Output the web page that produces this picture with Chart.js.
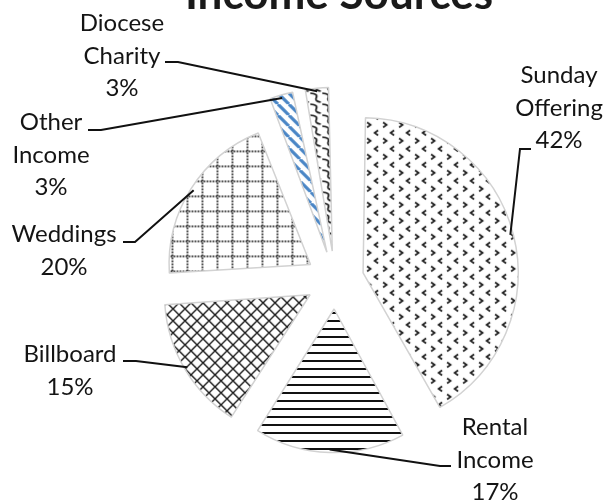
<!DOCTYPE html>
<html>
<head>
<meta charset="utf-8">
<title>Income Sources</title>
<script src="https://cdn.jsdelivr.net/npm/chart.js@4.4.1/dist/chart.umd.min.js"></script>
<style>
html, body { margin: 0; padding: 0; background: #fff; }
#wrap { width: 608px; height: 503px; }
</style>
</head>
<body>
<div id="wrap"><canvas id="pie" width="608" height="503"></canvas></div>
<script>
const categories = ['Sunday Offering', 'Rental Income', 'Billboard', 'Weddings', 'Other Income', 'Diocese Charity'];
const shares = [42, 17, 15, 20, 3, 3];
const labelLines = [['Sunday', 'Offering'], ['Rental', 'Income'], ['Billboard'], ['Weddings'], ['Other', 'Income'], ['Diocese', 'Charity']];

// where each callout sits and where its leader line leaves the text
const callouts = [
    { x: 559, y: 83, hook: [531, 149], elbow: [520, 149] },
    { x: 495, y: 435, hook: [451, 466], elbow: [440, 466] },
    { x: 70, y: 362, hook: [123, 361], elbow: [136, 361] },
    { x: 64, y: 242, hook: [123, 242], elbow: [135, 242] },
    { x: 51, y: 130, hook: [88, 130], elbow: [101, 130] },
    { x: 122, y: 31, hook: [165, 62], elbow: [178, 62] }
];

const canvas = document.getElementById('pie');
const ctx = canvas.getContext('2d');

function makePattern(w, h, draw) {
    const c = document.createElement('canvas');
    c.width = w;
    c.height = h;
    const g = c.getContext('2d');
    g.fillStyle = '#fff';
    g.fillRect(0, 0, w, h);
    draw(g);
    return ctx.createPattern(c, 'repeat');
}

const patterns = [
    // little < > marks
    makePattern(16, 16, g => {
        g.strokeStyle = '#1e1e1e';
        g.lineWidth = 1.7;
        g.beginPath();
        g.moveTo(3, 1.5); g.lineTo(6.5, 4); g.lineTo(3, 6.5);
        g.moveTo(14, 9.5); g.lineTo(10.5, 12); g.lineTo(14, 14.5);
        g.stroke();
    }),
    // horizontal lines
    makePattern(8, 8, g => {
        g.fillStyle = '#111';
        g.fillRect(0, 3, 8, 2);
    }),
    // diagonal cross hatch
    makePattern(12, 12, g => {
        g.strokeStyle = '#1a1a1a';
        g.lineWidth = 1.4;
        g.beginPath();
        g.moveTo(0, 0); g.lineTo(12, 12);
        g.moveTo(12, 0); g.lineTo(0, 12);
        g.stroke();
    }),
    // dotted grid
    makePattern(15, 15, g => {
        g.fillStyle = '#1a1a1a';
        for (let i = 0; i < 15; i += 3) {
            g.fillRect(i, 1, 1.7, 1.7);
            g.fillRect(1, i, 1.7, 1.7);
        }
    }),
    // blue stripes
    makePattern(11, 11, g => {
        g.strokeStyle = '#4a86c6';
        g.lineWidth = 3.2;
        g.beginPath();
        for (let x = -11; x <= 11; x += 11) {
            g.moveTo(x, 0);
            g.lineTo(x + 11, 11);
        }
        g.stroke();
    }),
    // curly waves
    makePattern(12, 11, g => {
        g.strokeStyle = '#1a1a1a';
        g.lineWidth = 1.7;
        g.beginPath();
        g.moveTo(1, 1);
        g.quadraticCurveTo(9, 1.5, 7, 5.5);
        g.quadraticCurveTo(5, 9, 11.5, 10);
        g.stroke();
    })
];

const calloutPlugin = {
    id: 'callouts',
    afterDraw(chart) {
        const c = chart.ctx;
        const meta = chart.getDatasetMeta(0);
        c.save();

        // title, half cut by the top edge
        c.fillStyle = '#1a1a1a';
        c.font = 'bold 44px Lato';
        c.textAlign = 'center';
        c.textBaseline = 'alphabetic';
        c.fillText('Income Sources', 339, 9);

        c.font = '24px Lato';
        meta.data.forEach((arc, i) => {
            const p = arc.getProps(['x', 'y', 'startAngle', 'endAngle', 'outerRadius', 'circumference'], true);
            const t = (arc.options.offset || 0) / 4;
            const grow = t * (1 - Math.sin(Math.min(Math.PI, p.circumference)));
            const mid = (p.startAngle + p.endAngle) / 2;
            const r = p.outerRadius + grow + t - 3;
            const ex = p.x + Math.cos(mid) * r;
            const ey = p.y + Math.sin(mid) * r;

            const box = callouts[i];
            const lines = labelLines[i].concat([shares[i] + '%']);
            c.fillStyle = '#141414';
            lines.forEach((txt, k) => c.fillText(txt, box.x, box.y + k * 32.5));

            c.strokeStyle = '#111';
            c.lineWidth = 2;
            c.beginPath();
            c.moveTo(box.hook[0], box.hook[1]);
            c.lineTo(box.elbow[0], box.elbow[1]);
            c.lineTo(ex, ey);
            c.stroke();
        });
        c.restore();
    }
};

new Chart(canvas, {
    type: 'pie',
    data: {
        labels: categories,
        datasets: [{
            data: shares,
            backgroundColor: patterns,
            borderColor: '#d2d2d2',
            borderWidth: 1.5,
            offset: 116
        }]
    },
    options: {
        responsive: false,
        animation: false,
        radius: 140,
        layout: { padding: { left: 100, right: 38, top: 90, bottom: 33 } },
        plugins: {
            legend: { display: false },
            title: { display: false },
            tooltip: { enabled: false }
        }
    },
    plugins: [calloutPlugin]
});
</script>
</body>
</html>
